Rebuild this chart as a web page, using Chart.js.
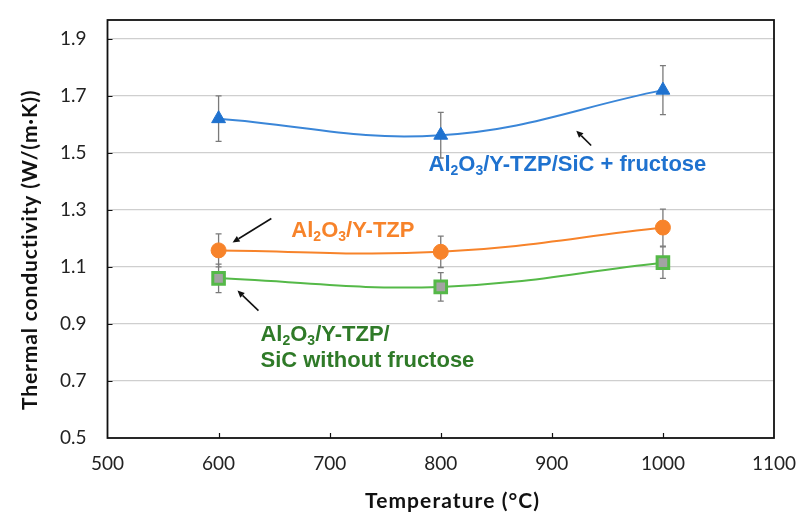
<!DOCTYPE html>
<html><head><meta charset="utf-8">
<script src="https://cdn.jsdelivr.net/npm/chart.js@4"></script>
<style>html,body{margin:0;padding:0;background:#fff}#wrap{width:797px;height:517px}</style>
</head><body><div id="wrap"><canvas id="c" width="797" height="517"></canvas></div>
<script>
const temps = [600, 800, 1000];
const fructoseVals = [1.62, 1.562, 1.72];
const fructoseErr = [0.08, 0.08, 0.086];
const tzpVals = [1.158, 1.153, 1.238];
const tzpErr = [0.058, 0.055, 0.065];
const noFructoseVals = [1.06, 1.03, 1.115];
const noFructoseErr = [0.05, 0.05, 0.055];
const xTicks = [500, 600, 700, 800, 900, 1000, 1100];
const yTicks = [0.5, 0.7, 0.9, 1.1, 1.3, 1.5, 1.7, 1.9];
const xTitle = 'Temperature (\u00B0C)';
const yTitle = 'Thermal conductivity (W/(m\u00B7K))';

const BLUE = '#1f72cf', BLUE_LINE = '#3a86d8';
const ORANGE = '#f7832a';
const GREEN = '#55b948', GREEN_TEXT = '#2f7a28';

const annotations = [
  {parts: [['Al', 0], ['2', 1], ['O', 0], ['3', 1], ['/Y-TZP/SiC + fructose', 0]], x: 789, y: 1.458, color: BLUE},
  {parts: [['Al', 0], ['2', 1], ['O', 0], ['3', 1], ['/Y-TZP', 0]], x: 665.5, y: 1.226, color: ORANGE},
  {parts: [['Al', 0], ['2', 1], ['O', 0], ['3', 1], ['/Y-TZP/', 0]], x: 637.7, y: 0.86, color: GREEN_TEXT},
  {parts: [['SiC without fructose', 0]], x: 637.7, y: 0.771, color: GREEN_TEXT}
];
const arrows = [
  {from: [935.4, 1.526], to: [922, 1.578]},
  {from: [647.5, 1.270], to: [612.6, 1.186]},
  {from: [635.9, 0.947], to: [617, 1.017]}
];

function pts(vals) { return temps.map((t, i) => ({x: t, y: vals[i]})); }

function drawFitted(ctx, text, font, cx, cy, width, rot) {
  ctx.save();
  ctx.translate(cx, cy);
  ctx.rotate(rot);
  ctx.font = font;
  ctx.letterSpacing = '0px';
  const w = ctx.measureText(text).width;
  const ls = (width - w) / (text.length - 1);
  ctx.letterSpacing = ls.toFixed(2) + 'px';
  ctx.textAlign = 'left';
  ctx.textBaseline = 'middle';
  ctx.fillStyle = '#111';
  ctx.fillText(text, -width / 2, 0);
  ctx.restore();
}

const errPlugin = {
  id: 'errbars',
  beforeDatasetsDraw(chart) {
    const {ctx, scales: {x, y}} = chart;
    const sets = [[fructoseVals, fructoseErr], [tzpVals, tzpErr], [noFructoseVals, noFructoseErr]];
    ctx.save();
    ctx.strokeStyle = '#7a7a7a';
    ctx.lineWidth = 1.3;
    sets.forEach(([v, e]) => {
      temps.forEach((t, i) => {
        const px = x.getPixelForValue(t);
        const y1 = y.getPixelForValue(v[i] + e[i]);
        const y2 = y.getPixelForValue(v[i] - e[i]);
        ctx.beginPath();
        ctx.moveTo(px, y1); ctx.lineTo(px, y2);
        ctx.moveTo(px - 3, y1); ctx.lineTo(px + 3, y1);
        ctx.moveTo(px - 3, y2); ctx.lineTo(px + 3, y2);
        ctx.stroke();
      });
    });
    ctx.restore();
  }
};

const framePlugin = {
  id: 'frame',
  beforeDatasetsDraw(chart) {
    const {ctx, chartArea: a, scales: {x, y}} = chart;
    ctx.save();
    ctx.strokeStyle = '#111';
    ctx.lineWidth = 1.2;
    ctx.beginPath();
    xTicks.slice(1, -1).forEach(t => {
      const px = Math.round(x.getPixelForValue(t)) + 0.5;
      ctx.moveTo(px, a.bottom); ctx.lineTo(px, a.bottom - 5);
    });
    yTicks.slice(1).forEach(t => {
      const py = Math.round(y.getPixelForValue(t)) + 0.5;
      ctx.moveTo(a.left, py); ctx.lineTo(a.left + 5, py);
    });
    ctx.stroke();
    ctx.lineWidth = 1.8;
    ctx.strokeRect(a.left, a.top, a.right - a.left, a.bottom - a.top);
    ctx.restore();
    drawFitted(ctx, xTitle, 'bold 21px Lato', 452, 501, 174, 0);
    drawFitted(ctx, yTitle, 'bold 21px Lato', 30, 250, 320, -Math.PI / 2);
  },
  afterDatasetsDraw(chart) {
    const {ctx, scales: {x, y}} = chart;
    ctx.save();
    const fs = 22;
    annotations.forEach(an => {
      let px = x.getPixelForValue(an.x);
      const py = y.getPixelForValue(an.y);
      ctx.fillStyle = an.color;
      ctx.textBaseline = 'middle';
      ctx.textAlign = 'left';
      an.parts.forEach(([txt, sub]) => {
        const size = sub ? Math.round(fs * 0.62) : fs;
        ctx.font = 'bold ' + size + 'px "Liberation Sans", Arial, sans-serif';
        ctx.fillText(txt, px, py + (sub ? 6 : 0));
        px += ctx.measureText(txt).width;
      });
    });
    ctx.strokeStyle = '#111';
    ctx.fillStyle = '#111';
    ctx.lineWidth = 1.6;
    arrows.forEach(ar => {
      const x1 = x.getPixelForValue(ar.from[0]), y1 = y.getPixelForValue(ar.from[1]);
      const x2 = x.getPixelForValue(ar.to[0]), y2 = y.getPixelForValue(ar.to[1]);
      const ang = Math.atan2(y2 - y1, x2 - x1);
      const hl = 7, hw = 3.2;
      const bx = x2 - hl * Math.cos(ang), by = y2 - hl * Math.sin(ang);
      ctx.beginPath(); ctx.moveTo(x1, y1); ctx.lineTo(bx, by); ctx.stroke();
      ctx.beginPath();
      ctx.moveTo(x2, y2);
      ctx.lineTo(bx + hw * Math.sin(ang), by - hw * Math.cos(ang));
      ctx.lineTo(bx - hw * Math.sin(ang), by + hw * Math.cos(ang));
      ctx.closePath(); ctx.fill();
    });
    ctx.restore();
  }
};

new Chart(document.getElementById('c'), {
  type: 'line',
  data: {
    datasets: [
      {label: 'Al2O3/Y-TZP/SiC + fructose', data: pts(fructoseVals), borderColor: BLUE_LINE, borderWidth: 2,
       pointStyle: 'triangle', pointRadius: 8, pointBackgroundColor: BLUE, pointBorderColor: BLUE, pointBorderWidth: 1, tension: 0.4},
      {label: 'Al2O3/Y-TZP', data: pts(tzpVals), borderColor: ORANGE, borderWidth: 2,
       pointStyle: 'circle', pointRadius: 7.5, pointBackgroundColor: ORANGE, pointBorderColor: ORANGE, pointBorderWidth: 1, tension: 0.4},
      {label: 'Al2O3/Y-TZP/SiC without fructose', data: pts(noFructoseVals), borderColor: GREEN, borderWidth: 2,
       pointStyle: 'rect', pointRadius: 8.2, pointBackgroundColor: '#a3a3a3', pointBorderColor: GREEN, pointBorderWidth: 3, tension: 0.4}
    ]
  },
  options: {
    responsive: false,
    animation: false,
    layout: {padding: {left: 0, right: 0, top: 20, bottom: 0}},
    plugins: {legend: {display: false}, tooltip: {enabled: false}},
    scales: {
      x: {
        type: 'linear', min: 500, max: 1100,
        afterBuildTicks(s) { s.ticks = xTicks.map(v => ({value: v})); },
        afterFit(s) { s.height = 79; s.paddingLeft = 0; s.paddingRight = 23; },
        grid: {display: false, drawTicks: false},
        border: {display: false},
        ticks: {color: '#222', padding: 14, font: {family: 'Lato', size: 19}, maxRotation: 0, callback: v => String(v)}
      },
      y: {
        type: 'linear', min: 0.5, max: 1.966,
        afterBuildTicks(s) { s.ticks = yTicks.map(v => ({value: v})); },
        afterFit(s) { s.width = 107.5; s.paddingTop = 0; s.paddingBottom = 0; },
        grid: {drawTicks: false, color: ctx => ctx.tick && ctx.tick.value === 0.5 ? 'rgba(0,0,0,0)' : '#cfcfcf', lineWidth: 1.3},
        border: {display: false},
        ticks: {color: '#222', padding: 21, font: {family: 'Lato', size: 19}, callback: v => v.toFixed(1)}
      }
    }
  },
  plugins: [errPlugin, framePlugin]
});
</script>
</body></html>
